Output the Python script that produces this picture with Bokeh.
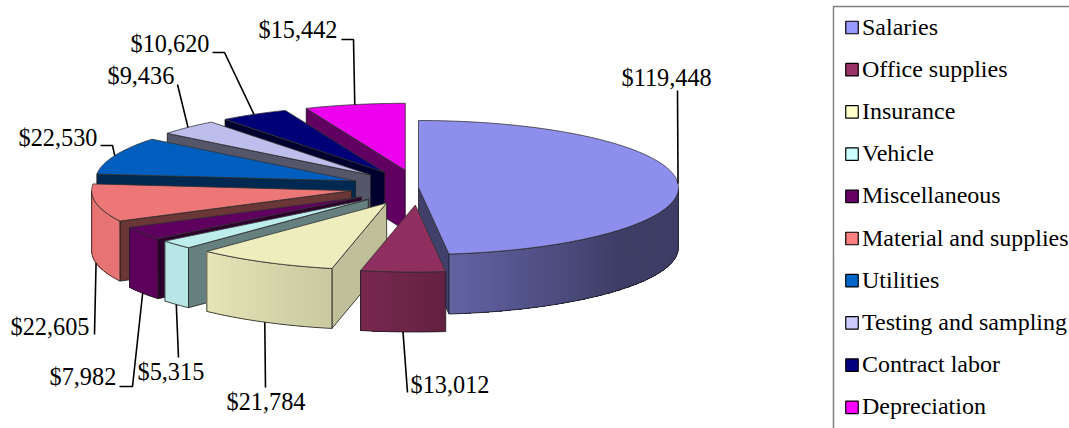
import numpy as np
from bokeh.core.properties import value
from bokeh.embed import file_html
from bokeh.models import Range1d
from bokeh.plotting import figure
from bokeh.resources import INLINE

categories = ["Salaries", "Office supplies", "Insurance", "Vehicle", "Miscellaneous",
              "Material and supplies", "Utilities", "Testing and sampling",
              "Contract labor", "Depreciation"]
amounts = [119448, 13012, 21784, 5315, 7982, 22605, 22530, 9436, 10620, 15442]
base_colors = ["#9999ff", "#993366", "#ffffcc", "#ccffff", "#660066",
               "#ff8080", "#0066cc", "#ccccff", "#000080", "#ff00ff"]

# layout / style
FONT = value("Liberation Serif")
FS = "24px"
LABEL_FS = "24.3px"
CX, CY, RX, RY, DEPTH = 418.0, 187.0, 260.0, 67.0, 60.0
explode = [0, 68, 68, 68, 68, 68, 68, 68, 68, 68]
face_shade = [0.42, 0.6, 0.75, 0.5, 0.45, 0.42, 0.40, 0.42, 0.37, 0.38]
rim_angle = [90, 130, 173, 192, 224, 270]
rim_shade = [0.40, 0.40, 0.64, 0.79, 0.90, 0.91]
draw_order = [9, 8, 7, 6, 5, 4, 3, 0, 2, 1]
# label layout: text left x, text centre y, optional elbow points, leader from rim top or bottom
label_pos = [(621, 76.8), (410, 383.8), (226, 400.8), (137, 370.8), (49, 375.8),
             (10, 325.8), (18, 136.8), (107, 74.8), (130, 42.8), (258, 28.8)]
leader_tail = [[(677, 90)], [(407, 392)], [(265, 387)], [(178, 357)], [(119, 386), (132, 386)],
               [(94, 334)], [(100, 145), (112, 145)], [(177, 84)], [(212, 52), (224, 52)],
               [(341, 39), (353, 39)]]
leader_on_bottom = [False, True, True, True, True, True, False, False, False, False]


def shade(hex_color, k):
    rgb = [int(hex_color[i:i + 2], 16) for i in (1, 3, 5)]
    return "#%02x%02x%02x" % tuple(int(round(c * k)) for c in rgb)


p = figure(width=1069, height=428, output_backend="svg", toolbar_location=None,
           x_range=Range1d(0, 1069), y_range=Range1d(428, 0), min_border=0)
p.axis.visible = False
p.grid.visible = False
p.outline_line_color = None
p.background_fill_color = "white"

total = float(sum(amounts))
edges = np.concatenate([[0.0], np.cumsum(amounts)]) / total * 360.0
EDGE = "#1a1a1a"
EW = 0.8


def apex_of(i):
    m = np.radians((edges[i] + edges[i + 1]) / 2)
    return CX + explode[i] * np.sin(m), CY - explode[i] * np.cos(m) * RY / RX


def rim_point(ax, ay, deg):
    r = np.radians(deg)
    return ax + RX * np.sin(r), ay - RY * np.cos(r)


for i in draw_order:
    a, b = edges[i], edges[i + 1]
    ax, ay = apex_of(i)
    col = base_colors[i]
    fc = shade(col, face_shade[i])

    # radial side faces turned to the viewer
    for deg, visible in ((a, 180 < a < 360), (b, 0 < b < 180)):
        if visible:
            ex, ey = rim_point(ax, ay, deg)
            p.patch([ax, ex, ex, ax], [ay, ey, ey + DEPTH, ay + DEPTH], fill_color=fc,
                    line_color=EDGE, line_width=EW)

    # outer rim: overlapping bands, each reaching the far end, so no seams show
    lo, hi = max(a, 90.0), min(b, 270.0)
    if hi > lo:
        t = np.linspace(lo, hi, max(int(hi - lo), 6))
        xs, ys = rim_point(ax, ay, t)
        sx, sy, sc = [], [], []
        for k in range(len(t) - 1):
            sx.append(np.concatenate([xs[k:], xs[k:][::-1]]))
            sy.append(np.concatenate([ys[k:], ys[k:][::-1] + DEPTH]))
            sc.append(shade(col, float(np.interp((t[k] + t[k + 1]) / 2, rim_angle, rim_shade))))
        p.patches(sx, sy, fill_color=sc, line_color=None)
        p.patch(np.concatenate([xs, xs[::-1]]), np.concatenate([ys, ys[::-1] + DEPTH]),
                fill_color=None, line_color=EDGE, line_width=EW)

    # top face
    t = np.linspace(a, b, max(int(b - a) * 2, 6))
    xs, ys = rim_point(ax, ay, t)
    p.patch(np.concatenate([[ax], xs]), np.concatenate([[ay], ys]),
            fill_color=shade(col, 0.93), line_color="#333333", line_width=EW)

# leaders and value labels
for i, name in enumerate(categories):
    ax, ay = apex_of(i)
    ex, ey = rim_point(ax, ay, (edges[i] + edges[i + 1]) / 2)
    if leader_on_bottom[i]:
        ey += DEPTH
    pts = leader_tail[i] + [(ex, ey)]
    p.line([q[0] for q in pts], [q[1] for q in pts], line_color="black", line_width=1.6)
    p.text([label_pos[i][0]], [label_pos[i][1]], text=["${:,}".format(amounts[i])],
           text_font=FONT, text_font_size=LABEL_FS, text_color="black",
           text_align="left", text_baseline="middle")

# legend
LEG_L, LEG_T, LEG_Y0, LEG_STEP = 833, 6, 27.0, 42.2
p.quad(left=[LEG_L], right=[1100], top=[LEG_T], bottom=[460], fill_color=None,
       line_color="#808080", line_width=1.5)
ly = [LEG_Y0 + LEG_STEP * k for k in range(len(categories))]
p.rect([851.5] * len(ly), ly, width=12.5, height=12.5, fill_color=base_colors,
       line_color="black", line_width=1.2)
p.text([861.5] * len(ly), [y - 1 for y in ly], text=categories, text_font=FONT, text_font_size=FS,
       text_color="black", text_align="left", text_baseline="middle")

open("out.html", "w").write(file_html(p, INLINE))
